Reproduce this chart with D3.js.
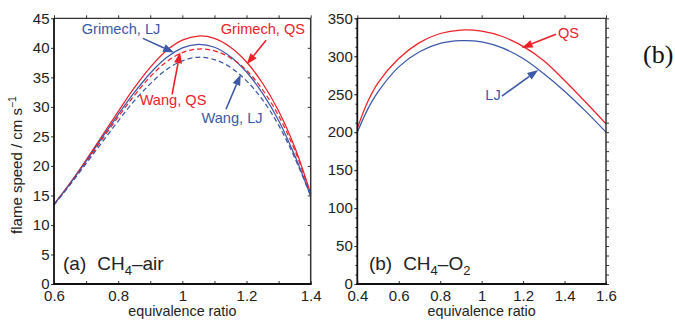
<!DOCTYPE html>
<html>
<head>
<meta charset="utf-8">
<script src="https://cdn.jsdelivr.net/npm/d3@7"></script>
<style>
  body { margin: 0; background: #fff; }
  svg { display: block; font-family: "Liberation Sans", Arial, sans-serif; }
</style>
</head>
<body>
<svg id="chart" width="675" height="320"></svg>
<script>
// panel (a): CH4-air, flame speed in cm/s vs equivalence ratio
const phiAir    = [0.6, 0.65, 0.7, 0.75, 0.8, 0.85, 0.9, 0.95, 1.0, 1.05, 1.1, 1.15, 1.2, 1.25, 1.3, 1.35, 1.4];
const grimechQS = [13.5, 17.1, 21.0, 25.1, 29.2, 33.2, 36.7, 39.5, 41.3, 42.0, 41.6, 40.1, 37.6, 34.0, 29.3, 23.2, 15.3];
const grimechLJ = [13.5, 17.0, 20.8, 24.8, 28.7, 32.4, 35.7, 38.3, 40.0, 40.6, 40.1, 38.5, 35.9, 32.3, 27.7, 21.8, 14.9];
const wangQS    = [13.4, 16.9, 20.6, 24.5, 28.3, 31.9, 35.1, 37.6, 39.2, 39.8, 39.5, 38.3, 36.2, 32.9, 28.5, 22.7, 15.2];
const wangLJ    = [13.4, 16.8, 20.4, 24.0, 27.6, 31.0, 33.9, 36.3, 37.8, 38.4, 38.0, 36.7, 34.4, 31.2, 26.9, 21.4, 14.9];

// panel (b): CH4-O2
const phiO2 = [0.4, 0.45, 0.5, 0.6, 0.7, 0.8, 0.9, 1.0, 1.1, 1.2, 1.3, 1.4, 1.5, 1.6];
const o2QS  = [205, 240, 265, 297, 318, 330, 334.5, 333, 326, 313, 294, 268, 240, 211];
const o2LJ  = [200, 230, 253, 286, 306, 317, 320.5, 319, 311, 297, 277, 254, 228, 200];

// ticks
const airXMajor = [0.6, 0.8, 1.0, 1.2, 1.4];
const airXMinor = [0.6, 0.7, 0.8, 0.9, 1.0, 1.1, 1.2, 1.3, 1.4];
const airYMajor = [0, 5, 10, 15, 20, 25, 30, 35, 40, 45];
const o2XMajor  = [0.4, 0.6, 0.8, 1.0, 1.2, 1.4, 1.6];
const o2YMajor  = [0, 50, 100, 150, 200, 250, 300, 350];
const o2YMinor  = [0, 12.5, 25, 37.5, 50, 62.5, 75, 87.5, 100, 112.5, 125, 137.5, 150, 162.5, 175, 187.5,
                   200, 212.5, 225, 237.5, 250, 262.5, 275, 287.5, 300, 312.5, 325, 337.5, 350];

const RED = '#ec2128', BLUE = '#3b58a9';

const svg = d3.select('#chart');
const fmt = d => d === 1 ? '1' : String(d);

function arrow(g, x, y, a){
  const x0 = x(a.from[0]), y0 = y(a.from[1]), x1 = x(a.to[0]), y1 = y(a.to[1]);
  const ang = Math.atan2(y1 - y0, x1 - x0), L = 11, W = 4;
  const bx = x1 - L * Math.cos(ang), by = y1 - L * Math.sin(ang);
  g.append('line').attr('x1', x0).attr('y1', y0).attr('x2', bx).attr('y2', by)
    .attr('stroke', a.color).attr('stroke-width', 1.6);
  const px = -Math.sin(ang) * W, py = Math.cos(ang) * W;
  g.append('path').attr('d', `M${x1},${y1}L${bx + px},${by + py}L${bx - px},${by - py}Z`)
    .attr('fill', a.color);
  g.append('text').attr('x', x(a.tx)).attr('y', y(a.ty)).attr('text-anchor', 'middle')
    .attr('fill', a.color).style('font-size', '14.6px').text(a.text);
}

function panel(cfg){
  const x = d3.scaleLinear().domain(cfg.xDomain).range(cfg.xRange);
  const y = d3.scaleLinear().domain(cfg.yDomain).range([284, 18.3]);
  const g = svg.append('g');
  const [X0, X1] = cfg.xRange, Y0 = 284, Y1 = 18.3;

  // curves
  const line = d3.line().x(d => x(d[0])).y(d => y(d[1])).curve(d3.curveCatmullRom);
  cfg.series.forEach(s => {
    g.append('path').datum(cfg.phi.map((p, i) => [p, s.values[i]]))
      .attr('d', line).attr('fill', 'none').attr('stroke', s.color)
      .attr('stroke-width', 1.25).attr('stroke-dasharray', s.dash || null);
  });

  // axes
  g.append('g').attr('transform', `translate(${X0},0)`)
    .call(d3.axisLeft(y).tickValues(cfg.yMajor).tickSize(3).tickPadding(1.5).tickFormat(fmt));
  if (cfg.yMinor) g.append('g').attr('transform', `translate(${X0},0)`)
    .call(d3.axisLeft(y).tickValues(cfg.yMinor).tickSize(2).tickFormat(''));
  g.append('g').attr('transform', `translate(0,${Y0})`)
    .call(d3.axisBottom(x).tickValues(cfg.xMajor).tickSize(0).tickPadding(6.5).tickFormat(fmt));
  g.append('g').attr('transform', `translate(0,${Y0})`)
    .call(d3.axisBottom(x).tickValues(cfg.xMinor).tickSize(-3).tickFormat(''));
  g.append('g').attr('transform', `translate(0,${Y1})`)
    .call(d3.axisTop(x).tickValues(cfg.xMinor).tickSize(3).tickFormat(''));
  g.append('g').attr('transform', `translate(${X1},0)`)
    .call(d3.axisRight(y).tickValues(cfg.yMinor || cfg.yMajor).tickSize(cfg.rightOut ? 3 : -3).tickFormat(''));
  g.selectAll('.domain').remove();
  g.selectAll('.tick line').attr('stroke', '#333');
  g.selectAll('.tick text').style('font-size', '15px').attr('fill', '#222');

  // frame
  g.append('line').attr('x1', X0).attr('x2', X1).attr('y1', Y1).attr('y2', Y1).attr('stroke', '#333').attr('stroke-width', 1.2);
  g.append('line').attr('x1', X1).attr('x2', X1).attr('y1', Y1).attr('y2', Y0).attr('stroke', '#333').attr('stroke-width', 1.5);
  g.append('line').attr('x1', X0).attr('x2', X0).attr('y1', Y1).attr('y2', Y0).attr('stroke', '#111').attr('stroke-width', 1.8);
  g.append('line').attr('x1', X0 - 1).attr('x2', X1 + 1).attr('y1', Y0).attr('y2', Y0).attr('stroke', '#111').attr('stroke-width', 2);

  g.append('text').attr('x', (X0 + X1) / 2).attr('y', 315.5).attr('text-anchor', 'middle')
    .style('font-size', '14.3px').attr('fill', '#222').text('equivalence ratio');

  // panel label
  const lab = g.append('text').attr('x', x(cfg.label.x)).attr('y', y(cfg.label.y))
    .style('font-size', '19px').attr('fill', '#222');
  lab.append('tspan').text(cfg.label.tag);
  lab.append('tspan').attr('dx', 11).text('CH');
  lab.append('tspan').style('font-size', '13px').attr('dy', 5).text('4');
  lab.append('tspan').attr('dy', -5).text(cfg.label.rest);
  if (cfg.label.sub) lab.append('tspan').style('font-size', '13px').attr('dy', 5).text(cfg.label.sub);

  cfg.notes.forEach(a => arrow(g, x, y, a));
}

panel({
  xDomain: [0.6, 1.4], xRange: [54, 310.7], yDomain: [0, 45],
  phi: phiAir, xMajor: airXMajor, xMinor: airXMinor, yMajor: airYMajor,
  series: [
    { values: grimechQS, color: RED },
    { values: grimechLJ, color: BLUE },
    { values: wangQS, color: RED, dash: '5,3' },
    { values: wangLJ, color: BLUE, dash: '5,3' }
  ],
  label: { x: 0.628, y: 2.37, tag: '(a)', rest: '\u2013air' },
  notes: [
    { text: 'Grimech, LJ', color: BLUE, tx: 0.809, ty: 42.4, from: [0.877, 41.6], to: [0.974, 39.2] },
    { text: 'Grimech, QS', color: RED, tx: 1.251, ty: 42.4, from: [1.261, 41.3], to: [1.2005, 37.2] },
    { text: 'Wang, QS', color: RED, tx: 0.971, ty: 30.3, from: [0.968, 32.1], to: [0.993, 39.25] },
    { text: 'Wang, LJ', color: BLUE, tx: 1.155, ty: 27.2, from: [1.136, 29.6], to: [1.182, 35.5] }
  ]
});

panel({
  xDomain: [0.4, 1.6], xRange: [357.3, 606], yDomain: [0, 350],
  phi: phiO2, xMajor: o2XMajor, xMinor: o2XMajor, yMajor: o2YMajor, yMinor: o2YMinor, rightOut: true,
  series: [
    { values: o2QS, color: RED },
    { values: o2LJ, color: BLUE }
  ],
  label: { x: 0.456, y: 18.4, tag: '(b)', rest: '\u2013O', sub: '2' },
  notes: [
    { text: 'QS', color: RED, tx: 1.419, ty: 324, from: [1.359, 329], to: [1.193, 311] },
    { text: 'LJ', color: BLUE, tx: 1.055, ty: 242, from: [1.098, 247.6], to: [1.273, 282] }
  ]
});

// y axis title
const yt = svg.append('text').attr('transform', 'translate(22,165) rotate(-90)')
  .attr('text-anchor', 'middle').style('font-size', '15px').attr('fill', '#222');
yt.append('tspan').text('flame speed / cm s');
yt.append('tspan').style('font-size', '10.5px').attr('dy', -6).text('\u22121');

// figure tag
svg.append('text').attr('x', 643).attr('y', 63)
  .style('font-family', '"Liberation Serif", "Times New Roman", serif').style('font-size', '26px')
  .attr('fill', '#111').text('(b)');
</script>
</body>
</html>
